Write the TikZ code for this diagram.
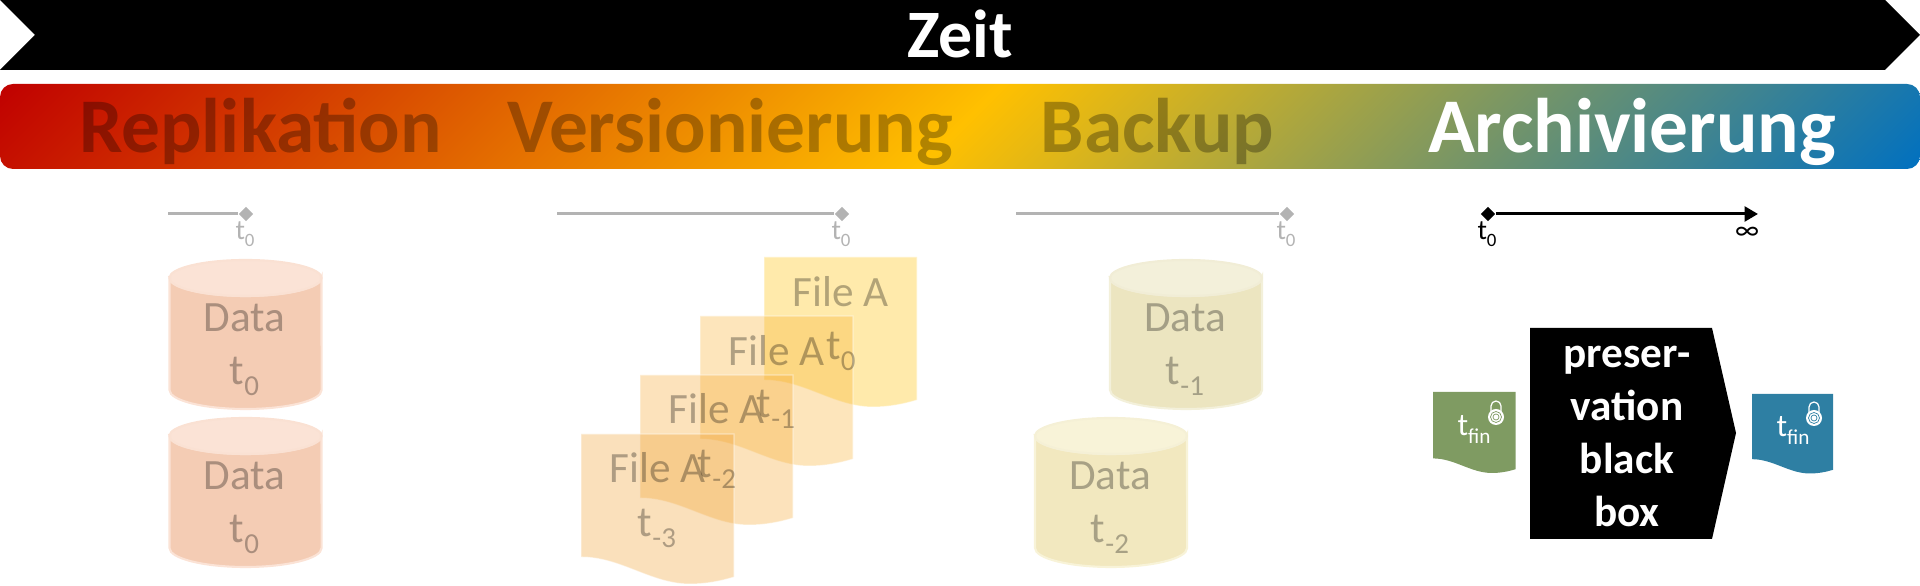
\documentclass[tikz,border=0pt]{standalone}
\usepackage{fontspec}
\setmainfont{Carlito}
\usetikzlibrary{arrows.meta, shapes.geometric}
\definecolor{barRed}{HTML}{C00000}
\definecolor{barYellow}{HTML}{FFC000}
\definecolor{barBlue}{HTML}{0070C0}
\definecolor{mutedLine}{HTML}{B3B3B3}
\definecolor{docGreen}{HTML}{7F9B62}
\definecolor{docBlue}{HTML}{2E7FA3}
\definecolor{canRed}{HTML}{F4CCB4}
\definecolor{lidRed}{HTML}{FBE3D6}
\definecolor{rimRed}{HTML}{FAE1D3}
\definecolor{canOliveA}{HTML}{ECE5C0}
\definecolor{lidOliveA}{HTML}{F3F0DA}
\definecolor{rimOliveA}{HTML}{F1EDD6}
\definecolor{canOliveB}{HTML}{F2E8BF}
\definecolor{lidOliveB}{HTML}{F8F3D8}
\definecolor{rimOliveB}{HTML}{F5F0D6}
\definecolor{sheetB}{HTML}{F8B030}
\definecolor{sheetC}{HTML}{F5A830}
\definecolor{sheetD}{HTML}{EFA030}
\pgfdeclarehorizontalshading{barFade}{100bp}{
  color(0bp)=(barRed); color(25bp)=(barRed); color(50bp)=(barYellow);
  color(75bp)=(barBlue); color(100bp)=(barBlue)}
\newcommand{\stamped}[1]{t\raisebox{-.24em}{\scalebox{.67}{#1}}}
\tikzset{
  phase/.style={anchor=base, font=\bfseries\fontsize{22}{26}\selectfont, text=black, text opacity=.3},
  faded/.style={anchor=base, font=\fontsize{12.3}{14}\selectfont, text=black, text opacity=.3},
  stamp/.style={anchor=base, font=\fontsize{8}{10}\selectfont},
  endmark/.style={diamond, fill=#1, inner sep=0pt, minimum width=.15cm, minimum height=.15cm},
  timeline/.style={line width=.85pt, draw=#1},
  sheet/.style={fill=#1, fill opacity=.33, draw=white, draw opacity=.45, line width=.3pt}
}
\newcommand{\drawDataCan}[7]{
  \begin{scope}[shift={(#2,#3)}]
    \draw[fill=#4, draw=#5, line width=.6pt] (-76,19) -- (-76,132) arc[start angle=180, end angle=360, x radius=.76cm, y radius=.19cm] -- (76,19) arc[start angle=0, end angle=-180, x radius=.76cm, y radius=.19cm] -- cycle;
    \draw[fill=#5, draw=#6, line width=.6pt] (0,20) ellipse[x radius=.76cm, y radius=.18cm];
    \node[faded] (#1word) at (-1,74) {Data};
    \node[faded] (#1time) at (-1,127) {\stamped{#7}};
  \end{scope}
}
\newcommand{\drawSheet}[4]{
  \begin{scope}[shift={(#1,#2)}, scale=#3]
    \draw[#4] (0,0) -- (153,0) -- (153,143) .. controls (140,147) and (125,150) .. (109,150) .. controls (70,150) and (40,123) .. (0,123) -- cycle;
  \end{scope}
}
\newcommand{\drawPadlock}[3]{
  \begin{scope}[shift={(#1,#2)}]
    \draw[white, line width=.35pt] (-5,-6) -- (-5,-11) arc[start angle=180, end angle=0, radius=.05cm] -- (5,-6);
    \fill[white] (0,0) circle (.08cm);
    \draw[#3, line width=.2pt] (0,0) circle (.055cm) (0,0) circle (.03cm);
  \end{scope}
}

\begin{document}
\begin{tikzpicture}[x=.01cm, y=-.01cm]
  \useasboundingbox (0,0) rectangle (1920,586);
  % time arrow and phase bar
  \fill[black] (0,0) -- (1885,0) -- (1920,35) -- (1885,70) -- (0,70) -- (35,35) -- cycle;
  \node[anchor=base, text=white, font=\bfseries\fontsize{19.3}{23}\selectfont] (timeLabel) at (960,58) {Zeit};
  \begin{scope}
    \clip[rounded corners=.13cm] (0,84) rectangle (1920,169);
    \begin{scope}[transform canvas={xslant=1}]
      \path[shading=barFade] (84,84) rectangle (2089,169);
    \end{scope}
  \end{scope}
  \node[phase] (replication) at (260.5,153) {Replikation};
  \node[phase] (versioning) at (730,153) {Versionierung};
  \node[phase] (backup) at (1157.5,153) {Backup};
  \node[phase, text=white, text opacity=1] (archiving) at (1632,153) {Archivierung};

  % retention scales
  \coordinate (replicaStart) at (168,214);
  \node[endmark=mutedLine] (replicaEnd) at (246,214) {};
  \draw[timeline=mutedLine] (replicaStart) -- (replicaEnd);
  \node[stamp, text=mutedLine] (replicaStamp) at (245,240) {\stamped{0}};
  \coordinate (versionStart) at (557,214);
  \node[endmark=mutedLine] (versionEnd) at (842,214) {};
  \draw[timeline=mutedLine] (versionStart) -- (versionEnd);
  \node[stamp, text=mutedLine] (versionStamp) at (841,240) {\stamped{0}};
  \coordinate (backupStart) at (1016,214);
  \node[endmark=mutedLine] (backupEnd) at (1287,214) {};
  \draw[timeline=mutedLine] (backupStart) -- (backupEnd);
  \node[stamp, text=mutedLine] (backupStamp) at (1286,240) {\stamped{0}};
  \node[endmark=black] (archiveStart) at (1488,214) {};
  \coordinate (archiveEnd) at (1758,214);
  \draw[timeline=black, -{Triangle[length=3.8pt, width=4.2pt]}] (archiveStart) -- (archiveEnd);
  \node[stamp] (archiveStamp) at (1487,240) {\stamped{0}};
  \node[stamp] (archiveInf) at (1747,240) {∞};

  % replication and backup stores
  \drawDataCan{replicaA}{245.5}{258}{canRed}{lidRed}{rimRed}{0}
  \drawDataCan{replicaB}{245.5}{416}{canRed}{lidRed}{rimRed}{0}
  \drawDataCan{backupA}{1186}{258}{canOliveA}{lidOliveA}{rimOliveA}{-1}
  \drawDataCan{backupB}{1111}{416}{canOliveB}{lidOliveB}{rimOliveB}{-2}

  % file versions
  \drawSheet{764}{257}{1}{sheet=barYellow}
  \drawSheet{700}{316}{1}{sheet=sheetB}
  \drawSheet{640}{375}{1}{sheet=sheetC}
  \drawSheet{581}{434}{1}{sheet=sheetD}
  \node[faded] (fileAname) at (841,307) {File A};
  \node[faded] (fileAtime) at (841,360) {\stamped{0}};
  \node[faded] (fileBname) at (777,366) {File A};
  \node[faded] (fileBtime) at (776,418) {\stamped{-1}};
  \node[faded] (fileCname) at (717,424) {File A};
  \node[faded] (fileCtime) at (717,478) {\stamped{-2}};
  \node[faded] (fileDname) at (658,483) {File A};
  \node[faded] (fileDtime) at (657,537) {\stamped{-3}};

  % preservation
  \fill[black] (1530,328) -- (1712,328) -- (1736,433) -- (1712,539) -- (1530,539) -- cycle;
  \node[text=white, align=center, anchor=base, font=\bfseries\fontsize{12.3}{15.08}\selectfont] (blackBox) at (1627,527) {preser-\\vation\\black\\box};
  \drawSheet{1433}{392}{.54}{fill=docGreen, draw=none}
  \drawPadlock{1496}{417}{docGreen}
  \node[stamp, text=white, font=\fontsize{9}{11}\selectfont] (finIn) at (1474,436) {\stamped{fin}};
  \drawSheet{1752}{394}{.53}{fill=docBlue, draw=none}
  \drawPadlock{1814}{418}{docBlue}
  \node[stamp, text=white, font=\fontsize{9}{11}\selectfont] (finOut) at (1793,437) {\stamped{fin}};
\end{tikzpicture}
\end{document}
